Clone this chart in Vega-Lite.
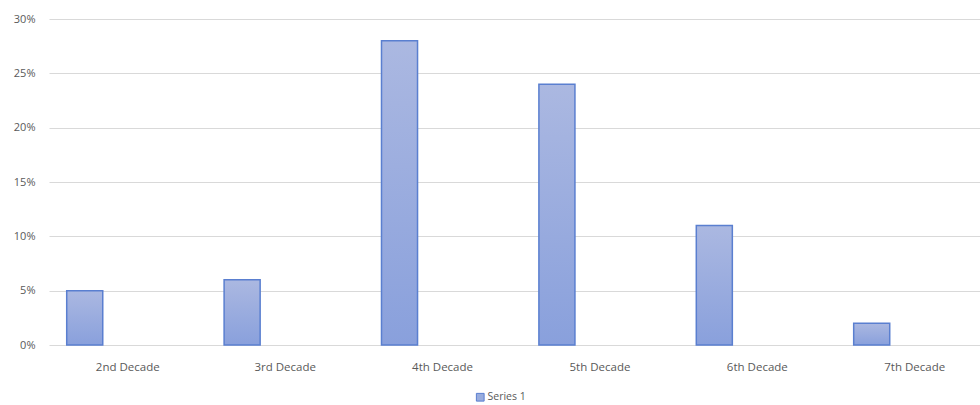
{
  "$schema": "https://vega.github.io/schema/vega-lite/v6.json",
  "width": 931,
  "height": 326,
  "autosize": {"type": "none"},
  "padding": {"left": 49, "top": 19, "right": 0, "bottom": 60},
  "background": "white",
  "config": {
    "view": {"stroke": null},
    "font": "Open Sans",
    "axis": {"labelFont": "Open Sans", "labelColor": "#595959", "labelFontSize": 11}
  },
  "data": {
    "values": [
      {"decade": "2nd Decade", "series": "Series 1", "value": 0.05},
      {"decade": "3rd Decade", "series": "Series 1", "value": 0.06},
      {"decade": "4th Decade", "series": "Series 1", "value": 0.28},
      {"decade": "5th Decade", "series": "Series 1", "value": 0.24},
      {"decade": "6th Decade", "series": "Series 1", "value": 0.11},
      {"decade": "7th Decade", "series": "Series 1", "value": 0.02}
    ]
  },
  "encoding": {
    "x": {
      "field": "decade",
      "type": "nominal",
      "sort": null,
      "scale": {"paddingInner": 0.771, "paddingOuter": 0.343, "align": 0.164},
      "axis": {
        "title": null,
        "labelAngle": 0,
        "ticks": false,
        "domain": false,
        "labelPadding": 16,
        "labelOffset": 43,
        "labelFontSize": 11.5
      }
    },
    "y": {
      "field": "value",
      "type": "quantitative",
      "scale": {"domain": [0, 0.3], "nice": false},
      "axis": {
        "title": null,
        "format": ".0%",
        "values": [0, 0.05, 0.1, 0.15, 0.2, 0.25, 0.3],
        "ticks": false,
        "domain": false,
        "gridColor": "#d9d9d9",
        "gridWidth": 1,
        "labelPadding": 14
      }
    }
  },
  "layer": [
    {
      "mark": {
        "type": "bar",
        "stroke": "#5a7fd0",
        "strokeWidth": 1.5,
        "color": {
          "gradient": "linear",
          "x1": 0, "y1": 0, "x2": 0, "y2": 1,
          "stops": [
            {"offset": 0, "color": "#abb8e1"},
            {"offset": 1, "color": "#89a0dc"}
          ]
        }
      }
    },
    {
      "mark": {"type": "bar", "opacity": 0},
      "encoding": {
        "color": {
          "field": "series",
          "type": "nominal",
          "scale": {"range": ["#98acde"]},
          "legend": {
            "title": null,
            "orient": "none",
            "legendX": 426,
            "legendY": 373,
            "symbolType": "square",
            "symbolSize": 60,
            "symbolOpacity": 1,
            "symbolStrokeColor": "#5a7fd0",
            "symbolStrokeWidth": 1,
            "labelFont": "Open Sans",
            "labelFontSize": 10.5,
            "labelColor": "#595959",
            "labelOffset": 2
          }
        }
      }
    }
  ]
}
